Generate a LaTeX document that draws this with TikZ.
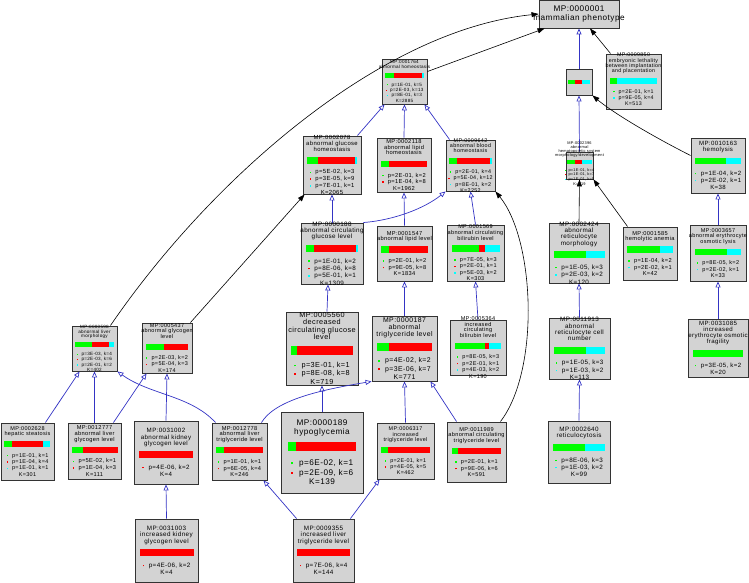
\documentclass[tikz,border=0pt]{standalone}
\usepackage{fontspec}
\usepackage{tikz}
\usetikzlibrary{arrows.meta}
\newfontfamily\gofont[LetterSpace=6]{Liberation Sans}
\definecolor{gogreen}{HTML}{00FF00}
\definecolor{gored}{HTML}{FF0000}
\definecolor{gocyan}{HTML}{00FFFF}
\definecolor{gogray}{HTML}{D3D3D3}
\definecolor{goblue}{HTML}{3434C4}
% coloured bar and bullet lines of one term
\newcommand{\gobar}[3]{\textcolor{gogreen}{\rule[-0.24em]{#1pt}{1.11em}}\textcolor{gored}{\rule[-0.24em]{#2pt}{1.11em}}\textcolor{gocyan}{\rule[-0.24em]{#3pt}{1.11em}}}
\newcommand{\gobarln}[3]{\\[0.84em]\gobar{#1}{#2}{#3}\\[1em]}
\newcommand{\gop}[2]{\textcolor{#1}{\rule[0.15em]{0.25em}{0.25em}}\hspace{0.75em}#2\\[0.17em]}
\tikzset{
  gobox/.style 2 args={draw=black!80, line width=0.9pt, fill=gogray, minimum width=#1, minimum height=#2, inner sep=0pt},
  gotext/.style={font=\gofont\fontsize{#1}{#1}\selectfont, align=center, inner sep=0pt},
  isa/.style={draw=goblue, line width=0.7pt, -{Triangle[open, length=6pt, width=5pt]}},
  rel/.style={draw=black, line width=0.6pt, -{Triangle[length=7pt, width=5pt]}}
}
\begin{document}
\lineskiplimit=-20pt
\begin{tikzpicture}[x=1pt, y=-1pt]
  \useasboundingbox (0,0) rectangle (749,583);
  % term boxes
  \node[gobox={80}{28}] (n0001) at (579,14) {};
  \node[gobox={26}{26}] (nUnk) at (579,82) {};
  \node[gobox={55}{55}] (n9850) at (633.5,81.5) {};
  \node[gobox={45}{45}] (n1764) at (404.5,81.5) {};
  \node[gobox={58}{58}] (n2078) at (332,165) {};
  \node[gobox={54}{54}] (n2118) at (404,165) {};
  \node[gobox={49}{51}] (n9642) at (470.5,165.5) {};
  \node[gobox={27}{27}] (n2396) at (579.5,165.5) {};
  \node[gobox={54}{55}] (n0163) at (718,165.5) {};
  \node[gobox={62}{61}] (n0188) at (332,253.5) {};
  \node[gobox={55}{55}] (n1547) at (404.5,253.5) {};
  \node[gobox={57}{56}] (n1569) at (475.5,253) {};
  \node[gobox={60}{60}] (n2424) at (579,253) {};
  \node[gobox={54}{53}] (n1585) at (650,253.5) {};
  \node[gobox={56}{56}] (n3657) at (718,253) {};
  \node[gobox={45}{45}] (n0598) at (94.5,348.5) {};
  \node[gobox={50}{50}] (n5437) at (167,348) {};
  \node[gobox={72}{73}] (n5560) at (322,348.5) {};
  \node[gobox={65}{65}] (n0187) at (404.5,348.5) {};
  \node[gobox={56}{55}] (n5364) at (478,347.5) {};
  \node[gobox={61}{61}] (n1913) at (579.5,348.5) {};
  \node[gobox={60}{58}] (n1085) at (718,348) {};
  \node[gobox={53}{57}] (n2628) at (27.5,451.5) {};
  \node[gobox={53}{56}] (n2777) at (94.5,451) {};
  \node[gobox={64}{63}] (n1002) at (166,452.5) {};
  \node[gobox={55}{57}] (n2778) at (239.5,451.5) {};
  \node[gobox={82}{81}] (n0189) at (322,452.5) {};
  \node[gobox={57}{56}] (n6317) at (405.5,451) {};
  \node[gobox={59}{60}] (n1989) at (476.5,452) {};
  \node[gobox={62}{62}] (n2640) at (579,452) {};
  \node[gobox={63}{63}] (n1003) at (166.5,550.5) {};
  \node[gobox={61}{63}] (n9355) at (323.5,550.5) {};

  % is-a edges
  \draw[isa] ([xshift=-4pt]n2078.north east) -- ([xshift=3pt]n1764.south west);
  \draw[isa] (n2118.north) -- (n1764.south);
  \draw[isa] ([xshift=4pt]n9642.north west) -- ([xshift=-3pt]n1764.south east);
  \draw[isa] (n0188.north) -- (n2078.south);
  \draw[isa] (n1547.north) -- (n2118.south);
  \draw[isa] (n0188.north east) .. controls (395,220) and (425,208) .. (n9642.south west);
  \draw[isa] (n1569.north) -- (n9642.south);
  \draw[isa] (n2396.north) -- (nUnk.south);
  \draw[isa] (nUnk.north) -- (n0001.south);
  \draw[isa] (n3657.north) -- (n0163.south);
  \draw[isa] (n1913.north) -- (n2424.south);
  \draw[isa] (n2640.north) -- (n1913.south);
  \draw[isa] (n1085.north) -- (n3657.south);
  \draw[isa] ([xshift=5pt]n5560.north) -- ([xshift=-4pt]n0188.south);
  \draw[isa] (n0187.north) -- (n1547.south);
  \draw[isa] (n5364.north) -- (n1569.south);
  \draw[isa] (n0189.north) -- (n5560.south);
  \draw[isa] (n6317.north) -- (n0187.south);
  \draw[isa] ([xshift=10pt]n1989.north west) -- ([xshift=-7pt]n0187.south east);
  \draw[isa] ([xshift=-6pt]n2778.north east) .. controls (275,400) and (320,390) .. (n0187.south west);
  \draw[isa] ([xshift=-9pt]n2628.north east) -- ([xshift=8pt]n0598.south west);
  \draw[isa] (n2777.north) -- (n0598.south);
  \draw[isa] ([xshift=4pt]n2778.north west) .. controls (190,395) and (150,395) .. (n0598.south east);
  \draw[isa] ([xshift=-8pt]n2777.north east) -- ([xshift=5pt]n5437.south west);
  \draw[isa] (n1002.north) -- (n5437.south);
  \draw[isa] (n1003.north) -- (n1002.south);
  \draw[isa] ([xshift=4pt]n9355.north west) -- ([xshift=-4pt]n2778.south east);
  \draw[isa] ([xshift=-4pt]n9355.north east) -- ([xshift=3pt]n6317.south west);

  % other edges
  \draw[rel] ([xshift=-7pt]n0598.north east) .. controls (210,180) and (380,30) .. (n0001.west);
  \draw[rel] ([yshift=10pt]n1764.east) -- ([xshift=6pt]n0001.south west);
  \draw[rel] ([xshift=5pt]n9850.north west) -- ([xshift=11pt]n0001.south);
  \draw[rel] ([yshift=10pt]n0163.west) .. controls (650,135) and (612,112) .. (nUnk.south east);
  \draw[rel] ([xshift=-2pt]n5437.north east) -- ([xshift=2pt]n2078.south west);
  \draw[rel] (n2424.north) -- (n2396.south);
  \draw[rel] ([xshift=5pt]n1585.north west) -- (n2396.south east);
  \draw[rel] ([xshift=-6pt]n1989.north east) .. controls (540,370) and (535,240) .. (n9642.south east);

  % term texts
  \node[gotext=8.2] (n0001t) at (n0001) {MP:0000001\\mammalian phenotype};
  \node[gotext=3.2] (nUnkt) at (nUnk) {\gobar{6.7}{6.7}{8.3}};
  \node[gotext=5.3] (n9850t) at ([yshift=2pt]n9850) {MP:0009850\\embryonic lethality\\between implantation\\and placentation\gobarln{6.7}{0}{40}\gop{gogreen}{p=2E-01, k=1}\gop{gocyan}{p=9E-05, k=4}K=513};
  \node[gotext=4.6] (n1764t) at (n1764) {MP:0001764\\abnormal homeostasis\gobarln{9.3}{27.7}{2.3}\gop{gogreen}{p=1E-01, k=5}\gop{gored}{p=2E-03, k=13}\gop{gocyan}{p=8E-01, k=3}K=2885};
  \node[gotext=5.9] (n2078t) at (n2078) {MP:0002078\\abnormal glucose\\homeostasis\gobarln{10.7}{37}{1.7}\gop{gogreen}{p=5E-02, k=3}\gop{gored}{p=3E-05, k=9}\gop{gocyan}{p=7E-01, k=1}K=2065};
  \node[gotext=5.75] (n2118t) at (n2118) {MP:0002118\\abnormal lipid\\homeostasis\gobarln{7.7}{38}{0}\gop{gogreen}{p=2E-01, k=2}\gop{gored}{p=1E-04, k=8}K=1962};
  \node[gotext=5.4] (n9642t) at (n9642) {MP:0009642\\abnormal blood\\homeostasis\gobarln{8}{33}{1.5}\gop{gogreen}{p=2E-01, k=4}\gop{gored}{p=5E-04, k=12}\gop{gocyan}{p=8E-01, k=2}K=2252};
  \node[gotext=3.9] (n2396t) at ([yshift=2pt]n2396) {MP:0002396\\abnormal\\hematopoietic system\\morphology/development\gobarln{7.7}{7}{10}\gop{gogreen}{p=1E-01, k=4}\gop{gored}{p=1E-01, k=7}\gop{gocyan}{p=1E-01, k=5}K=619};
  \node[gotext=6.1] (n0163t) at (n0163) {MP:0010163\\hemolysis\gobarln{31.7}{0}{15}\gop{gogreen}{p=1E-04, k=2}\gop{gocyan}{p=2E-02, k=1}K=38};
  \node[gotext=6.3] (n0188t) at (n0188) {MP:0000188\\abnormal circulating\\glucose level\gobarln{8.3}{41.7}{1.7}\gop{gogreen}{p=1E-01, k=2}\gop{gored}{p=8E-06, k=8}\gop{gocyan}{p=5E-01, k=1}K=1309};
  \node[gotext=5.7] (n1547t) at (n1547) {MP:0001547\\abnormal lipid level\gobarln{8}{39.3}{0}\gop{gogreen}{p=2E-01, k=2}\gop{gored}{p=9E-05, k=8}K=1834};
  \node[gotext=5.55] (n1569t) at (n1569) {MP:0001569\\abnormal circulating\\bilirubin level\gobarln{27}{6}{15}\gop{gogreen}{p=7E-05, k=3}\gop{gored}{p=2E-01, k=1}\gop{gocyan}{p=5E-03, k=2}K=303};
  \node[gotext=6.3] (n2424t) at (n2424) {MP:0002424\\abnormal\\reticulocyte\\morphology\gobarln{32}{0}{19}\gop{gogreen}{p=1E-05, k=3}\gop{gocyan}{p=2E-03, k=2}K=120};
  \node[gotext=5.7] (n1585t) at (n1585) {MP:0001585\\hemolytic anemia\gobarln{32.3}{0}{13.3}\gop{gogreen}{p=1E-04, k=2}\gop{gocyan}{p=2E-02, k=1}K=42};
  \node[gotext=5.55] (n3657t) at (n3657) {MP:0003657\\abnormal erythrocyte\\osmotic lysis\gobarln{32.7}{0}{14}\gop{gogreen}{p=8E-05, k=2}\gop{gocyan}{p=2E-02, k=1}K=33};
  \node[gotext=4.6] (n0598t) at (n0598) {MP:0000598\\abnormal liver\\morphology\gobarln{16.7}{17.3}{5.3}\gop{gogreen}{p=3E-03, k=4}\gop{gored}{p=2E-03, k=6}\gop{gocyan}{p=2E-01, k=2}K=402};
  \node[gotext=5.5] (n5437t) at (n5437) {MP:0005437\\abnormal glycogen\\level\gobarln{18.7}{24}{0}\gop{gogreen}{p=2E-03, k=2}\gop{gored}{p=5E-04, k=3}K=174};
  \node[gotext=7.3] (n5560t) at (n5560) {MP:0005560\\decreased\\circulating glucose\\level\gobarln{5.3}{56.3}{0}\gop{gogreen}{p=3E-01, k=1}\gop{gored}{p=8E-08, k=8}K=719};
  \node[gotext=6.9] (n0187t) at (n0187) {MP:0000187\\abnormal\\triglyceride level\gobarln{11.7}{43.7}{0}\gop{gogreen}{p=4E-02, k=2}\gop{gored}{p=3E-06, k=7}K=771};
  \node[gotext=5.55] (n5364t) at (n5364) {MP:0005364\\increased\\circulating\\bilirubin level\gobarln{30}{4}{12}\gop{gogreen}{p=8E-05, k=3}\gop{gored}{p=2E-01, k=1}\gop{gocyan}{p=4E-03, k=2}K=190};
  \node[gotext=6.3] (n1913t) at (n1913) {MP:0011913\\abnormal\\reticulocyte cell\\number\gobarln{32.7}{0}{19}\gop{gogreen}{p=1E-05, k=3}\gop{gocyan}{p=1E-03, k=2}K=113};
  \node[gotext=6.1] (n1085t) at (n1085) {MP:0031085\\increased\\erythrocyte osmotic\\fragility\gobarln{49.3}{0}{0}\gop{gogreen}{p=3E-05, k=2}K=20};
  \node[gotext=5.5] (n2628t) at (n2628) {MP:0002628\\hepatic steatosis\gobarln{7.7}{31}{7.3}\gop{gogreen}{p=1E-01, k=1}\gop{gored}{p=1E-04, k=4}\gop{gocyan}{p=1E-01, k=1}K=301};
  \node[gotext=5.7] (n2777t) at (n2777) {MP:0012777\\abnormal liver\\glycogen level\gobarln{11.7}{34.3}{0}\gop{gogreen}{p=5E-02, k=1}\gop{gored}{p=1E-04, k=3}K=111};
  \node[gotext=6.2] (n1002t) at (n1002) {MP:0031002\\abnormal kidney\\glycogen level\gobarln{0}{53.3}{0}\gop{gored}{p=4E-06, k=2}K=4};
  \node[gotext=5.7] (n2778t) at (n2778) {MP:0012778\\abnormal liver\\triglyceride level\gobarln{8.3}{39}{0}\gop{gogreen}{p=1E-01, k=1}\gop{gored}{p=6E-05, k=4}K=246};
  \node[gotext=8.2] (n0189t) at (n0189) {MP:0000189\\hypoglycemia\gobarln{7.7}{60.7}{0}\gop{gogreen}{p=6E-02, k=1}\gop{gored}{p=2E-09, k=6}K=139};
  \node[gotext=5.4] (n6317t) at (n6317) {MP:0006317\\increased\\triglyceride level\gobarln{6.7}{42.3}{0}\gop{gogreen}{p=2E-01, k=1}\gop{gored}{p=4E-05, k=5}K=462};
  \node[gotext=5.6] (n1989t) at (n1989) {MP:0011989\\abnormal circulating\\triglyceride level\gobarln{6.7}{43}{0}\gop{gogreen}{p=2E-01, k=1}\gop{gored}{p=9E-06, k=6}K=591};
  \node[gotext=6.3] (n2640t) at (n2640) {MP:0002640\\reticulocytosis\gobarln{32.7}{0}{20}\gop{gogreen}{p=8E-06, k=3}\gop{gocyan}{p=1E-03, k=2}K=99};
  \node[gotext=6.3] (n1003t) at (n1003) {MP:0031003\\increased kidney\\glycogen level\gobarln{0}{54}{0}\gop{gored}{p=4E-06, k=2}K=4};
  \node[gotext=6.3] (n9355t) at (n9355) {MP:0009355\\increased liver\\triglyceride level\gobarln{0}{52.7}{0}\gop{gored}{p=7E-06, k=4}K=144};
\end{tikzpicture}
\end{document}
